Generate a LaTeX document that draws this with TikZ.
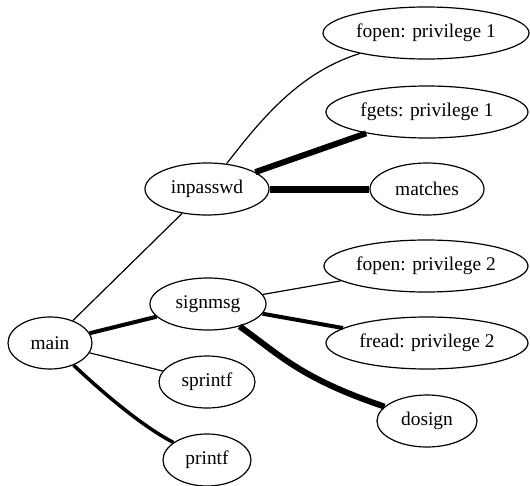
\documentclass[tikz,border=0pt]{standalone}
\usepackage{fontspec}
\setmainfont{Liberation Serif}
\usetikzlibrary{shapes.geometric}
\begin{document}
\begin{tikzpicture}[x=1pt,y=-1pt,
  nd/.style={draw,ellipse,line width=1.2pt,inner sep=0pt,minimum height=52pt,font=\fontsize{19.4}{23}\selectfont},
  ln/.style={line width=1.2pt},
  w3/.style={line width=3.5pt},
  w4/.style={line width=4pt},
  w6/.style={line width=6pt},
  w7/.style={line width=7pt}]
\useasboundingbox (0,0) rectangle (530,485);
\node[nd,minimum width=84pt] (main) at (50,343) {main};
\node[nd,minimum width=124pt] (inpasswd) at (207,189) {inpasswd};
\node[nd,minimum width=116pt] (signmsg) at (208,304) {signmsg};
\node[nd,minimum width=96pt] (sprintf) at (207,382) {sprintf};
\node[nd,minimum width=88pt] (printf) at (207,460) {printf};
\node[nd,minimum width=206pt] (fopenA) at (426,33) {fopen: privilege 1};
\node[nd,minimum width=202pt] (fgets) at (427,112) {fgets: privilege 1};
\node[nd,minimum width=114pt] (matches) at (427,189) {matches};
\node[nd,minimum width=204pt] (fopenB) at (426,266) {fopen: privilege 2};
\node[nd,minimum width=202pt] (fread) at (427,343) {fread: privilege 2};
\node[nd,minimum width=100pt] (dosign) at (427,421) {dosign};
\draw[ln] (main) -- (inpasswd);
\draw[w4] (main) -- (signmsg);
\draw[ln] (main) -- (sprintf);
\draw[w3] (main) .. controls (100,390) and (140,425) .. (printf);
\draw[ln] (inpasswd) .. controls (262,118) and (300,72) .. (fopenA);
\draw[w6] (inpasswd) -- (fgets);
\draw[w7] (inpasswd) -- (matches);
\draw[ln] (signmsg) -- (fopenB);
\draw[w4] (signmsg) -- (fread);
\draw[w6] (signmsg) .. controls (280,355) and (300,378) .. (dosign);
\end{tikzpicture}
\end{document}
